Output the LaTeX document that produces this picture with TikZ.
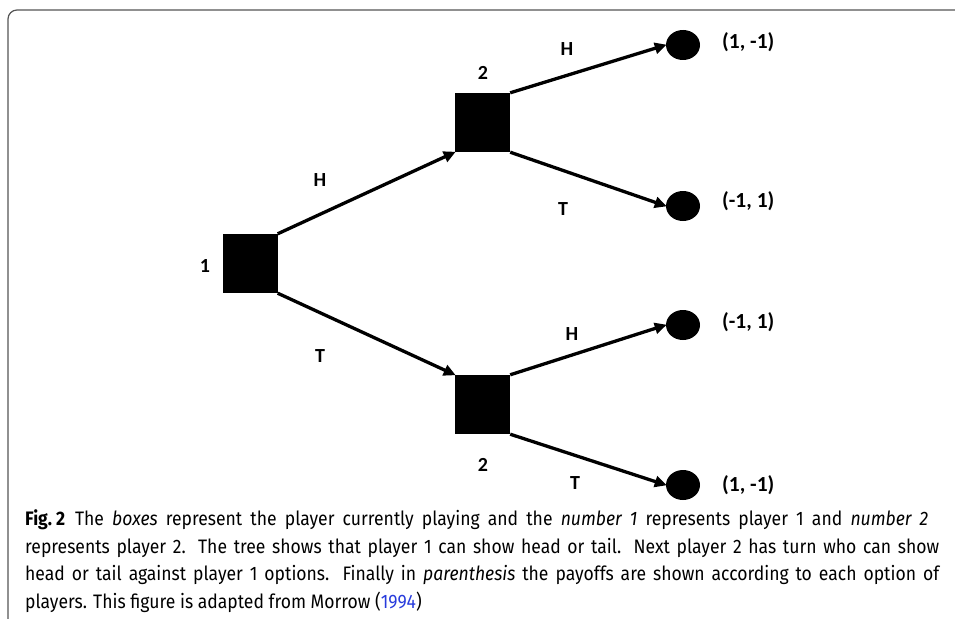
\documentclass[tikz,border=0pt]{standalone}
\usepackage{fontspec}
\setmainfont[FakeStretch=0.9]{Fira Sans}
\newfontfamily\lblfont{Carlito}
\usetikzlibrary{arrows.meta,shapes.geometric}
\definecolor{linkblue}{RGB}{40,60,220}
\definecolor{framegray}{RGB}{85,85,85}
\newcommand{\capfill}[2]{\makebox[#1][s]{#2}}
\begin{document}
\begin{tikzpicture}[x=1pt,y=-1pt,
  player/.style={fill=black,draw=none,minimum width=55pt,minimum height=59pt,inner sep=0pt},
  leaf/.style={ellipse,fill=black,draw=none,minimum width=34pt,minimum height=30pt,inner sep=0pt},
  lbl/.style={font=\lblfont\bfseries\fontsize{20}{24}\selectfont,inner sep=0pt},
  pay/.style={lbl,anchor=west,font=\lblfont\bfseries\fontsize{21.5}{24}\selectfont},
  move/.style={line width=3.3pt,-{Triangle[length=12pt,width=11pt]},shorten >=-1pt},
  capline/.style={anchor=base west,inner sep=0pt,font=\fontsize{19.5}{22}\selectfont}]
\useasboundingbox (0,0) rectangle (955,618);
\draw[framegray,line width=1.2pt,rounded corners=9pt] (956,10) -- (8,10) -- (8,619);
\node[player] (p1) at (250,263.5) {};
\node[player] (p2a) at (482.5,122.5) {};
\node[player] (p2b) at (482.5,404.5) {};
\node[leaf] (l1) at (683,45) {};
\node[leaf] (l2) at (683,206) {};
\node[leaf] (l3) at (683,325) {};
\node[leaf] (l4) at (683,485) {};
\draw[move] (p1.north east) -- (p2a.south west);
\draw[move] (p1.south east) -- (p2b.north west);
\draw[move] (p2a.north east) -- (l1.west);
\draw[move] (p2a.south east) -- (l2.west);
\draw[move] (p2b.north east) -- (l3.west);
\draw[move] (p2b.south east) -- (l4.west);
\node[lbl] (n1) at (205,266) {1};
\node[lbl] (n2a) at (483,73) {2};
\node[lbl] (n2b) at (483,465) {2};
\node[lbl] (h1) at (320,180) {H};
\node[lbl] (t1) at (320,356) {T};
\node[lbl] (h2) at (567,49) {H};
\node[lbl] (t2) at (563,209) {T};
\node[lbl] (h3) at (572,334) {H};
\node[lbl] (t3) at (575,483) {T};
\node[pay] (r1) at (722,42) {(1, -1)};
\node[pay] (r2) at (722,201) {(-1, 1)};
\node[pay] (r3) at (722,322) {(-1, 1)};
\node[pay] (r4) at (722,485) {(1, -1)};
\node[capline] (c1) at (25,525.5) {\capfill{903pt}{\mbox{\textbf{Fig.\ 2}}\hspace{0.5em}The \textit{boxes} represent the player currently playing and the \textit{number 1} represents player 1 and \textit{number 2}}};
\node[capline] (c2) at (25,553) {\capfill{914pt}{represents player 2. The tree shows that player 1 can show head or tail. Next player 2 has turn who can show}};
\node[capline] (c3) at (25,580.7) {\capfill{914pt}{head or tail against player 1 options. Finally in \textit{parenthesis} the payoffs are shown according to each option of}};
\node[capline] (c4) at (25,608) {players. This figure is adapted from Morrow (\textcolor{linkblue}{1994})};
\end{tikzpicture}
\end{document}
